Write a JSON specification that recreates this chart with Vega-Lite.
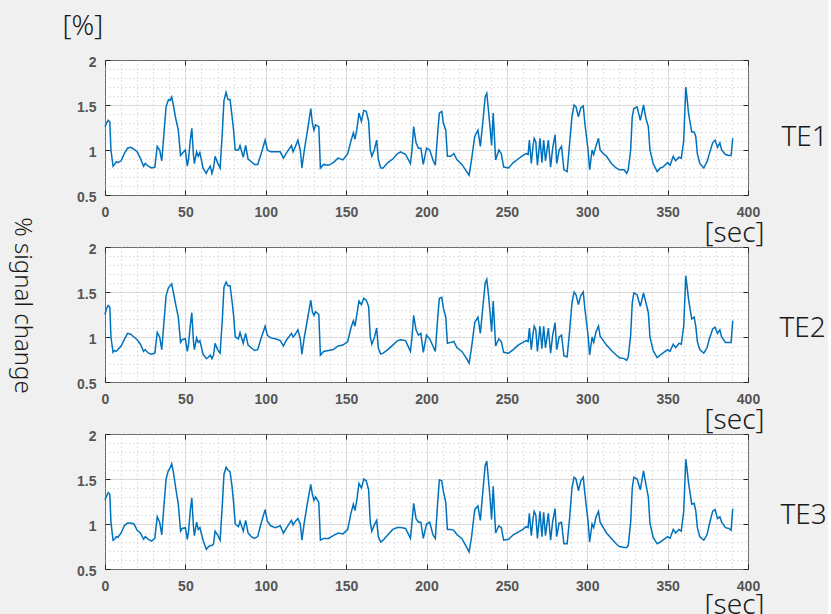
{
  "$schema": "https://vega.github.io/schema/vega-lite/v6.json",
  "background": "#f0f0f0",
  "padding": {"left": 8, "top": 11, "right": 0, "bottom": 0},
  "spacing": 52,
  "bounds": "flush",
  "config": {
    "view": {"fill": "#ffffff", "stroke": "#262626", "strokeWidth": 1},
    "axis": {"domain": false, "labelFont": "Liberation Sans", "labelFontSize": 14, "labelFontWeight": "bold", "labelColor": "#555555", "tickColor": "#262626", "tickWidth": 1, "titleFont": "Noto Sans", "titleFontWeight": 300, "titleColor": "#1a1a1a", "titleFontSize": 28, "labelFlush": false},
    "line": {"color": "#0072BD", "strokeWidth": 1.5}
  },
  "data": {"values": [
    {"t":0,"TE1":1.26,"TE2":1.25,"TE3":1.27},
    {"t":1,"TE1":1.30,"TE2":1.32,"TE3":1.31},
    {"t":2,"TE1":1.33,"TE2":1.35,"TE3":1.35},
    {"t":3,"TE1":1.31,"TE2":1.33,"TE3":1.33},
    {"t":3.7,"TE1":1.00,"TE2":1.00,"TE3":1.02},
    {"t":5,"TE1":0.82,"TE2":0.83,"TE3":0.82},
    {"t":6,"TE1":0.84,"TE2":0.85,"TE3":0.83},
    {"t":7,"TE1":0.87,"TE2":0.84,"TE3":0.86},
    {"t":8,"TE1":0.86,"TE2":0.86,"TE3":0.85},
    {"t":10,"TE1":0.88,"TE2":0.90,"TE3":0.90},
    {"t":12,"TE1":0.96,"TE2":0.97,"TE3":0.98},
    {"t":14,"TE1":1.02,"TE2":1.04,"TE3":1.01},
    {"t":16,"TE1":1.03,"TE2":1.03,"TE3":1.01},
    {"t":18,"TE1":1.01,"TE2":1.00,"TE3":1.00},
    {"t":20,"TE1":0.98,"TE2":0.97,"TE3":0.93},
    {"t":22,"TE1":0.91,"TE2":0.92,"TE3":0.90},
    {"t":24,"TE1":0.82,"TE2":0.84,"TE3":0.83},
    {"t":25,"TE1":0.85,"TE2":0.86,"TE3":0.86},
    {"t":27,"TE1":0.82,"TE2":0.82,"TE3":0.83},
    {"t":29,"TE1":0.80,"TE2":0.81,"TE3":0.81},
    {"t":31,"TE1":0.81,"TE2":0.82,"TE3":0.84},
    {"t":32.5,"TE1":1.04,"TE2":1.05,"TE3":1.08},
    {"t":34,"TE1":1.00,"TE2":1.00,"TE3":1.02},
    {"t":35.3,"TE1":0.88,"TE2":0.86,"TE3":0.88},
    {"t":36.3,"TE1":1.10,"TE2":1.08,"TE3":1.12},
    {"t":38,"TE1":1.48,"TE2":1.46,"TE3":1.50},
    {"t":39.5,"TE1":1.56,"TE2":1.55,"TE3":1.60},
    {"t":40.5,"TE1":1.55,"TE2":1.57,"TE3":1.62},
    {"t":41.5,"TE1":1.59,"TE2":1.59,"TE3":1.67},
    {"t":42.5,"TE1":1.50,"TE2":1.50,"TE3":1.58},
    {"t":44,"TE1":1.35,"TE2":1.36,"TE3":1.40},
    {"t":45.6,"TE1":1.22,"TE2":1.22,"TE3":1.22},
    {"t":47,"TE1":0.94,"TE2":0.94,"TE3":0.92},
    {"t":48,"TE1":0.96,"TE2":0.97,"TE3":0.95},
    {"t":50,"TE1":1.00,"TE2":0.98,"TE3":0.96},
    {"t":51.2,"TE1":0.82,"TE2":0.84,"TE3":0.83},
    {"t":52,"TE1":0.90,"TE2":0.92,"TE3":0.92},
    {"t":53,"TE1":1.10,"TE2":1.12,"TE3":1.14},
    {"t":54,"TE1":1.24,"TE2":1.27,"TE3":1.29},
    {"t":55,"TE1":0.95,"TE2":0.96,"TE3":0.98},
    {"t":55.6,"TE1":0.85,"TE2":0.86,"TE3":0.87},
    {"t":57,"TE1":0.98,"TE2":0.99,"TE3":1.02},
    {"t":58,"TE1":0.93,"TE2":0.94,"TE3":0.94},
    {"t":59,"TE1":0.97,"TE2":0.96,"TE3":0.96},
    {"t":61,"TE1":0.80,"TE2":0.81,"TE3":0.82},
    {"t":63,"TE1":0.74,"TE2":0.76,"TE3":0.72},
    {"t":64,"TE1":0.78,"TE2":0.77,"TE3":0.74},
    {"t":65.5,"TE1":0.82,"TE2":0.80,"TE3":0.76},
    {"t":66.5,"TE1":0.74,"TE2":0.76,"TE3":0.76},
    {"t":67.5,"TE1":0.80,"TE2":0.80,"TE3":0.78},
    {"t":68.5,"TE1":0.93,"TE2":0.93,"TE3":0.92},
    {"t":70,"TE1":0.86,"TE2":0.86,"TE3":0.88},
    {"t":71.6,"TE1":0.80,"TE2":0.82,"TE3":0.82},
    {"t":73,"TE1":1.20,"TE2":1.20,"TE3":1.22},
    {"t":74,"TE1":1.55,"TE2":1.55,"TE3":1.55},
    {"t":75.3,"TE1":1.64,"TE2":1.61,"TE3":1.63},
    {"t":76.5,"TE1":1.56,"TE2":1.57,"TE3":1.60},
    {"t":77.8,"TE1":1.56,"TE2":1.57,"TE3":1.58},
    {"t":79,"TE1":1.38,"TE2":1.40,"TE3":1.42},
    {"t":80,"TE1":1.22,"TE2":1.24,"TE3":1.24},
    {"t":81,"TE1":1.00,"TE2":1.00,"TE3":1.00},
    {"t":83,"TE1":1.00,"TE2":0.98,"TE3":0.97},
    {"t":84,"TE1":1.05,"TE2":1.05,"TE3":1.03},
    {"t":86,"TE1":0.92,"TE2":0.93,"TE3":0.92},
    {"t":87.5,"TE1":1.05,"TE2":1.04,"TE3":1.04},
    {"t":89,"TE1":0.90,"TE2":0.91,"TE3":0.90},
    {"t":91,"TE1":0.87,"TE2":0.88,"TE3":0.86},
    {"t":93,"TE1":0.84,"TE2":0.85,"TE3":0.84},
    {"t":95,"TE1":0.84,"TE2":0.86,"TE3":0.86},
    {"t":97,"TE1":0.95,"TE2":0.98,"TE3":1.00},
    {"t":99.6,"TE1":1.11,"TE2":1.12,"TE3":1.16},
    {"t":101,"TE1":1.00,"TE2":1.02,"TE3":1.03},
    {"t":103,"TE1":0.98,"TE2":0.99,"TE3":0.98},
    {"t":106,"TE1":0.98,"TE2":0.98,"TE3":0.96},
    {"t":109,"TE1":0.98,"TE2":0.96,"TE3":0.98},
    {"t":111,"TE1":0.91,"TE2":0.90,"TE3":0.90},
    {"t":113,"TE1":0.97,"TE2":0.97,"TE3":0.96},
    {"t":116,"TE1":1.05,"TE2":1.04,"TE3":1.04},
    {"t":117,"TE1":0.98,"TE2":1.00,"TE3":0.99},
    {"t":118,"TE1":1.02,"TE2":1.02,"TE3":1.02},
    {"t":120,"TE1":1.11,"TE2":1.08,"TE3":1.06},
    {"t":121.5,"TE1":1.00,"TE2":0.98,"TE3":1.00},
    {"t":122.5,"TE1":0.80,"TE2":0.81,"TE3":0.82},
    {"t":124,"TE1":1.00,"TE2":1.00,"TE3":1.02},
    {"t":126,"TE1":1.22,"TE2":1.20,"TE3":1.24},
    {"t":128,"TE1":1.46,"TE2":1.41,"TE3":1.44},
    {"t":129,"TE1":1.30,"TE2":1.28,"TE3":1.33},
    {"t":130,"TE1":1.22,"TE2":1.24,"TE3":1.26},
    {"t":131,"TE1":1.28,"TE2":1.28,"TE3":1.30},
    {"t":133,"TE1":1.26,"TE2":1.25,"TE3":1.24},
    {"t":134,"TE1":0.80,"TE2":0.80,"TE3":0.82},
    {"t":136,"TE1":0.84,"TE2":0.84,"TE3":0.84},
    {"t":139,"TE1":0.83,"TE2":0.85,"TE3":0.84},
    {"t":142,"TE1":0.86,"TE2":0.86,"TE3":0.87},
    {"t":145,"TE1":0.91,"TE2":0.90,"TE3":0.90},
    {"t":148,"TE1":0.89,"TE2":0.91,"TE3":0.89},
    {"t":151,"TE1":0.96,"TE2":0.95,"TE3":0.94},
    {"t":153,"TE1":1.10,"TE2":1.10,"TE3":1.12},
    {"t":154.5,"TE1":1.19,"TE2":1.18,"TE3":1.22},
    {"t":155.5,"TE1":1.12,"TE2":1.12,"TE3":1.15},
    {"t":156.6,"TE1":1.22,"TE2":1.24,"TE3":1.26},
    {"t":158,"TE1":1.41,"TE2":1.40,"TE3":1.45},
    {"t":159.5,"TE1":1.32,"TE2":1.36,"TE3":1.40},
    {"t":161,"TE1":1.44,"TE2":1.43,"TE3":1.50},
    {"t":162.5,"TE1":1.43,"TE2":1.41,"TE3":1.48},
    {"t":164,"TE1":1.32,"TE2":1.34,"TE3":1.38},
    {"t":165,"TE1":1.00,"TE2":1.00,"TE3":1.02},
    {"t":166,"TE1":0.93,"TE2":0.92,"TE3":0.92},
    {"t":167.5,"TE1":1.00,"TE2":0.99,"TE3":0.99},
    {"t":169,"TE1":1.11,"TE2":1.10,"TE3":1.04},
    {"t":170,"TE1":0.90,"TE2":0.88,"TE3":0.86},
    {"t":171.5,"TE1":0.80,"TE2":0.81,"TE3":0.80},
    {"t":173,"TE1":0.80,"TE2":0.82,"TE3":0.82},
    {"t":176,"TE1":0.86,"TE2":0.86,"TE3":0.88},
    {"t":179,"TE1":0.90,"TE2":0.91,"TE3":0.94},
    {"t":182,"TE1":0.96,"TE2":0.96,"TE3":0.96},
    {"t":184,"TE1":0.98,"TE2":0.97,"TE3":0.96},
    {"t":187,"TE1":0.95,"TE2":0.96,"TE3":0.95},
    {"t":190,"TE1":0.85,"TE2":0.84,"TE3":0.84},
    {"t":191,"TE1":1.00,"TE2":1.00,"TE3":1.02},
    {"t":192,"TE1":1.26,"TE2":1.24,"TE3":1.23},
    {"t":193.5,"TE1":1.08,"TE2":1.08,"TE3":1.06},
    {"t":195,"TE1":1.02,"TE2":1.02,"TE3":1.02},
    {"t":196.5,"TE1":1.02,"TE2":1.04,"TE3":1.02},
    {"t":198,"TE1":0.84,"TE2":0.83,"TE3":0.84},
    {"t":200,"TE1":1.02,"TE2":1.02,"TE3":1.00},
    {"t":202,"TE1":1.00,"TE2":0.98,"TE3":1.02},
    {"t":204,"TE1":0.89,"TE2":0.90,"TE3":0.88},
    {"t":205.5,"TE1":0.83,"TE2":0.84,"TE3":0.84},
    {"t":207,"TE1":1.20,"TE2":1.22,"TE3":1.25},
    {"t":208,"TE1":1.41,"TE2":1.43,"TE3":1.49},
    {"t":209.5,"TE1":1.43,"TE2":1.44,"TE3":1.48},
    {"t":210.5,"TE1":1.30,"TE2":1.32,"TE3":1.36},
    {"t":212,"TE1":1.22,"TE2":1.22,"TE3":1.24},
    {"t":213,"TE1":0.93,"TE2":0.93,"TE3":0.94},
    {"t":215,"TE1":0.93,"TE2":0.94,"TE3":0.94},
    {"t":217,"TE1":0.96,"TE2":0.95,"TE3":0.93},
    {"t":219,"TE1":0.89,"TE2":0.88,"TE3":0.88},
    {"t":222,"TE1":0.84,"TE2":0.84,"TE3":0.84},
    {"t":225,"TE1":0.76,"TE2":0.76,"TE3":0.74},
    {"t":226.5,"TE1":0.72,"TE2":0.71,"TE3":0.69},
    {"t":228,"TE1":0.89,"TE2":0.88,"TE3":0.85},
    {"t":230,"TE1":1.15,"TE2":1.16,"TE3":1.16},
    {"t":232,"TE1":1.22,"TE2":1.22,"TE3":1.20},
    {"t":233.5,"TE1":1.04,"TE2":1.04,"TE3":1.04},
    {"t":235,"TE1":1.30,"TE2":1.32,"TE3":1.35},
    {"t":236.5,"TE1":1.59,"TE2":1.60,"TE3":1.65},
    {"t":237.5,"TE1":1.63,"TE2":1.64,"TE3":1.70},
    {"t":238.5,"TE1":1.45,"TE2":1.48,"TE3":1.50},
    {"t":239.5,"TE1":1.26,"TE2":1.28,"TE3":1.30},
    {"t":240.5,"TE1":1.05,"TE2":1.06,"TE3":1.05},
    {"t":241.5,"TE1":1.41,"TE2":1.40,"TE3":1.42},
    {"t":243,"TE1":0.89,"TE2":0.90,"TE3":0.90},
    {"t":245,"TE1":1.00,"TE2":0.98,"TE3":0.98},
    {"t":246.5,"TE1":0.96,"TE2":0.95,"TE3":0.96},
    {"t":248,"TE1":0.81,"TE2":0.83,"TE3":0.82},
    {"t":251,"TE1":0.80,"TE2":0.82,"TE3":0.83},
    {"t":254,"TE1":0.86,"TE2":0.86,"TE3":0.88},
    {"t":257,"TE1":0.90,"TE2":0.91,"TE3":0.91},
    {"t":260,"TE1":0.94,"TE2":0.94,"TE3":0.94},
    {"t":262,"TE1":0.96,"TE2":0.96,"TE3":0.97},
    {"t":263.2,"TE1":0.95,"TE2":0.95,"TE3":0.96},
    {"t":264,"TE1":1.11,"TE2":1.10,"TE3":1.12},
    {"t":265.2,"TE1":0.85,"TE2":0.86,"TE3":0.87},
    {"t":266.3,"TE1":1.05,"TE2":1.04,"TE3":1.06},
    {"t":267,"TE1":1.13,"TE2":1.12,"TE3":1.14},
    {"t":268,"TE1":1.09,"TE2":1.08,"TE3":1.10},
    {"t":269,"TE1":0.83,"TE2":0.84,"TE3":0.84},
    {"t":270.6,"TE1":1.13,"TE2":1.12,"TE3":1.14},
    {"t":271.8,"TE1":0.86,"TE2":0.87,"TE3":0.86},
    {"t":272.9,"TE1":1.11,"TE2":1.12,"TE3":1.13},
    {"t":274,"TE1":0.88,"TE2":0.88,"TE3":0.87},
    {"t":275.8,"TE1":1.11,"TE2":1.10,"TE3":1.12},
    {"t":277.2,"TE1":0.81,"TE2":0.82,"TE3":0.82},
    {"t":278.5,"TE1":1.02,"TE2":1.02,"TE3":1.03},
    {"t":280,"TE1":1.17,"TE2":1.16,"TE3":1.17},
    {"t":281,"TE1":0.85,"TE2":0.86,"TE3":0.86},
    {"t":282.5,"TE1":1.00,"TE2":1.00,"TE3":1.01},
    {"t":284,"TE1":1.04,"TE2":1.02,"TE3":1.02},
    {"t":285.5,"TE1":0.78,"TE2":0.79,"TE3":0.78},
    {"t":287.5,"TE1":0.76,"TE2":0.78,"TE3":0.78},
    {"t":289,"TE1":1.07,"TE2":1.06,"TE3":1.06},
    {"t":290.5,"TE1":1.37,"TE2":1.38,"TE3":1.40},
    {"t":291.8,"TE1":1.50,"TE2":1.50,"TE3":1.52},
    {"t":293,"TE1":1.48,"TE2":1.47,"TE3":1.50},
    {"t":294.5,"TE1":1.37,"TE2":1.36,"TE3":1.37},
    {"t":296,"TE1":1.47,"TE2":1.46,"TE3":1.48},
    {"t":297.5,"TE1":1.49,"TE2":1.50,"TE3":1.52},
    {"t":298.5,"TE1":1.30,"TE2":1.32,"TE3":1.34},
    {"t":300.5,"TE1":1.00,"TE2":1.02,"TE3":1.03},
    {"t":301.5,"TE1":0.78,"TE2":0.80,"TE3":0.80},
    {"t":303,"TE1":1.00,"TE2":1.00,"TE3":1.00},
    {"t":304,"TE1":0.95,"TE2":0.94,"TE3":0.96},
    {"t":305.5,"TE1":1.05,"TE2":1.06,"TE3":1.08},
    {"t":307,"TE1":1.13,"TE2":1.12,"TE3":1.14},
    {"t":308,"TE1":1.00,"TE2":1.01,"TE3":1.02},
    {"t":310,"TE1":0.96,"TE2":0.96,"TE3":0.96},
    {"t":312,"TE1":0.93,"TE2":0.91,"TE3":0.90},
    {"t":315,"TE1":0.85,"TE2":0.85,"TE3":0.84},
    {"t":318,"TE1":0.80,"TE2":0.80,"TE3":0.78},
    {"t":320,"TE1":0.78,"TE2":0.77,"TE3":0.75},
    {"t":323,"TE1":0.78,"TE2":0.76,"TE3":0.74},
    {"t":324.5,"TE1":0.74,"TE2":0.74,"TE3":0.74},
    {"t":325.5,"TE1":0.78,"TE2":0.78,"TE3":0.76},
    {"t":327,"TE1":1.00,"TE2":1.02,"TE3":1.02},
    {"t":328,"TE1":1.37,"TE2":1.38,"TE3":1.40},
    {"t":329,"TE1":1.46,"TE2":1.49,"TE3":1.52},
    {"t":331,"TE1":1.48,"TE2":1.47,"TE3":1.50},
    {"t":333,"TE1":1.33,"TE2":1.34,"TE3":1.38},
    {"t":335,"TE1":1.50,"TE2":1.49,"TE3":1.59},
    {"t":336.5,"TE1":1.35,"TE2":1.38,"TE3":1.44},
    {"t":338,"TE1":1.26,"TE2":1.27,"TE3":1.30},
    {"t":339,"TE1":1.00,"TE2":1.00,"TE3":1.01},
    {"t":341,"TE1":0.85,"TE2":0.85,"TE3":0.85},
    {"t":343.5,"TE1":0.76,"TE2":0.77,"TE3":0.78},
    {"t":345.5,"TE1":0.80,"TE2":0.80,"TE3":0.80},
    {"t":347,"TE1":0.81,"TE2":0.82,"TE3":0.82},
    {"t":350,"TE1":0.86,"TE2":0.86,"TE3":0.86},
    {"t":351.5,"TE1":0.83,"TE2":0.84,"TE3":0.84},
    {"t":353.5,"TE1":0.93,"TE2":0.92,"TE3":0.94},
    {"t":355,"TE1":0.88,"TE2":0.88,"TE3":0.90},
    {"t":357,"TE1":0.92,"TE2":0.93,"TE3":0.94},
    {"t":358.5,"TE1":0.91,"TE2":0.92,"TE3":0.92},
    {"t":360,"TE1":1.10,"TE2":1.12,"TE3":1.14},
    {"t":361.3,"TE1":1.70,"TE2":1.68,"TE3":1.72},
    {"t":362,"TE1":1.59,"TE2":1.58,"TE3":1.62},
    {"t":363,"TE1":1.41,"TE2":1.42,"TE3":1.46},
    {"t":365,"TE1":1.20,"TE2":1.20,"TE3":1.22},
    {"t":366.5,"TE1":1.20,"TE2":1.22,"TE3":1.23},
    {"t":367.5,"TE1":1.15,"TE2":1.12,"TE3":1.15},
    {"t":368.5,"TE1":0.96,"TE2":0.95,"TE3":0.96},
    {"t":370,"TE1":0.85,"TE2":0.86,"TE3":0.86},
    {"t":372.5,"TE1":0.80,"TE2":0.82,"TE3":0.82},
    {"t":374.5,"TE1":0.87,"TE2":0.88,"TE3":0.88},
    {"t":376,"TE1":0.96,"TE2":0.98,"TE3":1.00},
    {"t":378,"TE1":1.08,"TE2":1.09,"TE3":1.14},
    {"t":379.5,"TE1":1.11,"TE2":1.11,"TE3":1.16},
    {"t":381,"TE1":1.03,"TE2":1.04,"TE3":1.06},
    {"t":382.5,"TE1":1.08,"TE2":1.08,"TE3":1.08},
    {"t":383.6,"TE1":1.00,"TE2":1.00,"TE3":1.02},
    {"t":386,"TE1":0.95,"TE2":0.94,"TE3":0.96},
    {"t":388,"TE1":0.94,"TE2":0.94,"TE3":0.95},
    {"t":389.5,"TE1":0.94,"TE2":0.94,"TE3":0.93},
    {"t":390.5,"TE1":1.13,"TE2":1.18,"TE3":1.17}
  ]},
  "vconcat": [
    {
      "width": 643, "height": 135,
      "resolve": {"axis": {"x": "independent", "y": "independent"}},
      "layer": [
        {"mark": {"type": "line", "opacity": 0},
         "encoding": {
           "x": {"field": "t", "type": "quantitative", "scale": {"domain": [0, 400], "nice": false, "zero": false},
                 "axis": {"orient": "bottom", "values": [0,10,20,30,40,50,60,70,80,90,100,110,120,130,140,150,160,170,180,190,200,210,220,230,240,250,260,270,280,290,300,310,320,330,340,350,360,370,380,390,400], "grid": true, "gridColor": "#c4c4c4", "gridDash": [1, 3], "ticks": false, "labels": false, "domain": false, "title": null, "minExtent": 0, "maxExtent": 0}},
           "y": {"field": "TE1", "type": "quantitative", "scale": {"domain": [0.5, 2], "nice": false, "zero": false},
                 "axis": {"orient": "left", "values": [0.5,0.6,0.7,0.8,0.9,1,1.1,1.2,1.3,1.4,1.5,1.6,1.7,1.8,1.9,2], "grid": true, "gridColor": "#c4c4c4", "gridDash": [1, 3], "ticks": false, "labels": false, "domain": false, "title": null, "minExtent": 0, "maxExtent": 0}}
         }},
        {"mark": {"type": "line", "opacity": 0},
         "encoding": {
           "x": {"field": "t", "type": "quantitative",
                 "axis": {"orient": "top", "values": [0,50,100,150,200,250,300,350,400], "grid": true, "gridColor": "#a8a8a8", "gridDash": [1, 3], "ticks": true, "tickSize": -5, "labels": false, "domain": false, "title": null, "minExtent": 0, "maxExtent": 0}},
           "y": {"field": "TE1", "type": "quantitative",
                 "axis": {"orient": "right", "values": [0.5,1,1.5,2], "grid": true, "gridColor": "#a8a8a8", "gridDash": [1, 3], "ticks": true, "tickSize": -5, "labels": false, "domain": false, "minExtent": 0, "maxExtent": 0,
                          "title": "TE1", "titleAngle": 0, "titleAlign": "left", "titleBaseline": "alphabetic", "titleX": 33, "titleY": 85}}
         }},
        {"mark": "line",
         "encoding": {
           "x": {"field": "t", "type": "quantitative",
                 "axis": {"orient": "bottom", "values": [0,50,100,150,200,250,300,350,400], "grid": false, "ticks": true, "tickSize": -5, "labelPadding": 15, "domain": false,
                          "title": "[sec]", "titleAngle": 0, "titleAlign": "right", "titleBaseline": "alphabetic", "titleX": 659, "titleY": 46}},
           "y": {"field": "TE1", "type": "quantitative",
                 "axis": {"orient": "left", "values": [0.5,1,1.5,2], "format": ".1~f", "grid": false, "ticks": true, "tickSize": -5, "labelPadding": 14, "labelOffset": 2, "domain": false,
                          "title": "[%]", "titleAngle": 0, "titleAlign": "left", "titleBaseline": "alphabetic", "titleX": -43, "titleY": -26}}
         }}
      ]
    },
    {
      "width": 643, "height": 135,
      "resolve": {"axis": {"x": "independent", "y": "independent"}},
      "layer": [
        {"mark": {"type": "line", "opacity": 0},
         "encoding": {
           "x": {"field": "t", "type": "quantitative", "scale": {"domain": [0, 400], "nice": false, "zero": false},
                 "axis": {"orient": "bottom", "values": [0,10,20,30,40,50,60,70,80,90,100,110,120,130,140,150,160,170,180,190,200,210,220,230,240,250,260,270,280,290,300,310,320,330,340,350,360,370,380,390,400], "grid": true, "gridColor": "#c4c4c4", "gridDash": [1, 3], "ticks": false, "labels": false, "domain": false, "title": null, "minExtent": 0, "maxExtent": 0}},
           "y": {"field": "TE2", "type": "quantitative", "scale": {"domain": [0.5, 2], "nice": false, "zero": false},
                 "axis": {"orient": "left", "values": [0.5,0.6,0.7,0.8,0.9,1,1.1,1.2,1.3,1.4,1.5,1.6,1.7,1.8,1.9,2], "grid": true, "gridColor": "#c4c4c4", "gridDash": [1, 3], "ticks": false, "labels": false, "domain": false, "title": null, "minExtent": 0, "maxExtent": 0}}
         }},
        {"mark": {"type": "line", "opacity": 0},
         "encoding": {
           "x": {"field": "t", "type": "quantitative",
                 "axis": {"orient": "top", "values": [0,50,100,150,200,250,300,350,400], "grid": true, "gridColor": "#a8a8a8", "gridDash": [1, 3], "ticks": true, "tickSize": -5, "labels": false, "domain": false, "title": null, "minExtent": 0, "maxExtent": 0}},
           "y": {"field": "TE2", "type": "quantitative",
                 "axis": {"orient": "right", "values": [0.5,1,1.5,2], "grid": true, "gridColor": "#a8a8a8", "gridDash": [1, 3], "ticks": true, "tickSize": -5, "labels": false, "domain": false, "minExtent": 0, "maxExtent": 0,
                          "title": "TE2", "titleAngle": 0, "titleAlign": "left", "titleBaseline": "alphabetic", "titleX": 31, "titleY": 89}}
         }},
        {"mark": "line",
         "encoding": {
           "x": {"field": "t", "type": "quantitative",
                 "axis": {"orient": "bottom", "values": [0,50,100,150,200,250,300,350,400], "grid": false, "ticks": true, "tickSize": -5, "labelPadding": 15, "domain": false,
                          "title": "[sec]", "titleAngle": 0, "titleAlign": "right", "titleBaseline": "alphabetic", "titleX": 659, "titleY": 46}},
           "y": {"field": "TE2", "type": "quantitative",
                 "axis": {"orient": "left", "values": [0.5,1,1.5,2], "format": ".1~f", "grid": false, "ticks": true, "tickSize": -5, "labelPadding": 14, "labelOffset": 2, "domain": false,
                          "title": "% signal change", "titleAngle": 90, "titleAlign": "center", "titleBaseline": "middle", "titleFontSize": 24, "titleX": -84, "titleY": 58}}
         }}
      ]
    },
    {
      "width": 643, "height": 135,
      "resolve": {"axis": {"x": "independent", "y": "independent"}},
      "layer": [
        {"mark": {"type": "line", "opacity": 0},
         "encoding": {
           "x": {"field": "t", "type": "quantitative", "scale": {"domain": [0, 400], "nice": false, "zero": false},
                 "axis": {"orient": "bottom", "values": [0,10,20,30,40,50,60,70,80,90,100,110,120,130,140,150,160,170,180,190,200,210,220,230,240,250,260,270,280,290,300,310,320,330,340,350,360,370,380,390,400], "grid": true, "gridColor": "#c4c4c4", "gridDash": [1, 3], "ticks": false, "labels": false, "domain": false, "title": null, "minExtent": 0, "maxExtent": 0}},
           "y": {"field": "TE3", "type": "quantitative", "scale": {"domain": [0.5, 2], "nice": false, "zero": false},
                 "axis": {"orient": "left", "values": [0.5,0.6,0.7,0.8,0.9,1,1.1,1.2,1.3,1.4,1.5,1.6,1.7,1.8,1.9,2], "grid": true, "gridColor": "#c4c4c4", "gridDash": [1, 3], "ticks": false, "labels": false, "domain": false, "title": null, "minExtent": 0, "maxExtent": 0}}
         }},
        {"mark": {"type": "line", "opacity": 0},
         "encoding": {
           "x": {"field": "t", "type": "quantitative",
                 "axis": {"orient": "top", "values": [0,50,100,150,200,250,300,350,400], "grid": true, "gridColor": "#a8a8a8", "gridDash": [1, 3], "ticks": true, "tickSize": -5, "labels": false, "domain": false, "title": null, "minExtent": 0, "maxExtent": 0}},
           "y": {"field": "TE3", "type": "quantitative",
                 "axis": {"orient": "right", "values": [0.5,1,1.5,2], "grid": true, "gridColor": "#a8a8a8", "gridDash": [1, 3], "ticks": true, "tickSize": -5, "labels": false, "domain": false, "minExtent": 0, "maxExtent": 0,
                          "title": "TE3", "titleAngle": 0, "titleAlign": "left", "titleBaseline": "alphabetic", "titleX": 32, "titleY": 89}}
         }},
        {"mark": "line",
         "encoding": {
           "x": {"field": "t", "type": "quantitative",
                 "axis": {"orient": "bottom", "values": [0,50,100,150,200,250,300,350,400], "grid": false, "ticks": true, "tickSize": -5, "labelPadding": 15, "domain": false,
                          "title": "[sec]", "titleAngle": 0, "titleAlign": "right", "titleBaseline": "alphabetic", "titleX": 659, "titleY": 44}},
           "y": {"field": "TE3", "type": "quantitative",
                 "axis": {"orient": "left", "values": [0.5,1,1.5,2], "format": ".1~f", "grid": false, "ticks": true, "tickSize": -5, "labelPadding": 14, "labelOffset": 2, "domain": false, "title": null}}
         }}
      ]
    }
  ]
}
